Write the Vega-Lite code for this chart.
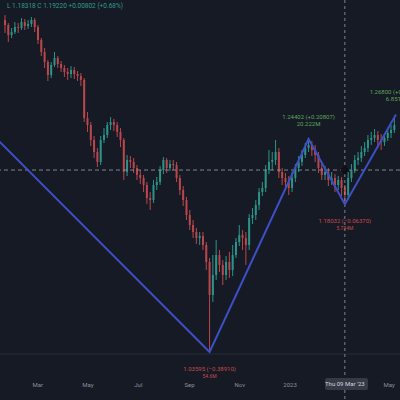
{
"$schema":"https://vega.github.io/schema/vega-lite/v6.json",
"width":400,"height":400,"autosize":"none","padding":0,
"background":"#161a25",
"config":{"view":{"stroke":null},"font":"Roboto"},
"datasets":{
"c":[
{"d":"2022-01-21","o":1.3603,"h":1.3651,"l":1.3476,"c":1.3554},
{"d":"2022-01-25","o":1.3554,"h":1.3573,"l":1.3388,"c":1.3456},
{"d":"2022-01-29","o":1.3456,"h":1.3524,"l":1.3427,"c":1.3485},
{"d":"2022-02-02","o":1.3485,"h":1.3583,"l":1.3466,"c":1.3534},
{"d":"2022-02-06","o":1.3534,"h":1.3573,"l":1.3476,"c":1.3524},
{"d":"2022-02-10","o":1.3524,"h":1.3622,"l":1.3505,"c":1.3583},
{"d":"2022-02-14","o":1.3583,"h":1.3612,"l":1.3505,"c":1.3544},
{"d":"2022-02-18","o":1.3544,"h":1.3603,"l":1.3515,"c":1.3564},
{"d":"2022-02-22","o":1.3564,"h":1.3632,"l":1.3534,"c":1.3603},
{"d":"2022-02-26","o":1.3603,"h":1.3622,"l":1.3485,"c":1.3534},
{"d":"2022-03-02","o":1.3534,"h":1.3554,"l":1.3368,"c":1.3407},
{"d":"2022-03-06","o":1.3407,"h":1.3427,"l":1.3251,"c":1.3290},
{"d":"2022-03-10","o":1.3290,"h":1.3329,"l":1.3134,"c":1.3192},
{"d":"2022-03-14","o":1.3192,"h":1.3212,"l":1.3007,"c":1.3065},
{"d":"2022-03-18","o":1.3065,"h":1.3192,"l":1.3036,"c":1.3163},
{"d":"2022-03-22","o":1.3163,"h":1.3290,"l":1.3144,"c":1.3231},
{"d":"2022-03-26","o":1.3231,"h":1.3251,"l":1.3134,"c":1.3173},
{"d":"2022-03-30","o":1.3173,"h":1.3202,"l":1.3095,"c":1.3134},
{"d":"2022-04-03","o":1.3134,"h":1.3163,"l":1.3046,"c":1.3095},
{"d":"2022-04-07","o":1.3095,"h":1.3134,"l":1.3017,"c":1.3075},
{"d":"2022-04-11","o":1.3075,"h":1.3153,"l":1.3036,"c":1.3114},
{"d":"2022-04-15","o":1.3114,"h":1.3144,"l":1.3026,"c":1.3075},
{"d":"2022-04-19","o":1.3075,"h":1.3105,"l":1.3007,"c":1.3056},
{"d":"2022-04-23","o":1.3056,"h":1.3085,"l":1.2958,"c":1.3017},
{"d":"2022-04-27","o":1.3017,"h":1.3036,"l":1.2606,"c":1.2645},
{"d":"2022-05-01","o":1.2645,"h":1.2704,"l":1.2509,"c":1.2577},
{"d":"2022-05-05","o":1.2577,"h":1.2606,"l":1.2372,"c":1.2431},
{"d":"2022-05-09","o":1.2431,"h":1.2470,"l":1.2255,"c":1.2313},
{"d":"2022-05-13","o":1.2313,"h":1.2352,"l":1.2167,"c":1.2216},
{"d":"2022-05-17","o":1.2216,"h":1.2470,"l":1.2186,"c":1.2431},
{"d":"2022-05-21","o":1.2431,"h":1.2548,"l":1.2401,"c":1.2479},
{"d":"2022-05-25","o":1.2479,"h":1.2606,"l":1.2450,"c":1.2577},
{"d":"2022-05-29","o":1.2577,"h":1.2655,"l":1.2528,"c":1.2606},
{"d":"2022-06-02","o":1.2606,"h":1.2636,"l":1.2518,"c":1.2577},
{"d":"2022-06-06","o":1.2577,"h":1.2606,"l":1.2460,"c":1.2509},
{"d":"2022-06-10","o":1.2509,"h":1.2548,"l":1.2362,"c":1.2431},
{"d":"2022-06-14","o":1.2431,"h":1.2450,"l":1.2040,"c":1.2118},
{"d":"2022-06-18","o":1.2118,"h":1.2284,"l":1.2079,"c":1.2235},
{"d":"2022-06-22","o":1.2235,"h":1.2274,"l":1.2157,"c":1.2216},
{"d":"2022-06-26","o":1.2216,"h":1.2255,"l":1.2108,"c":1.2157},
{"d":"2022-06-30","o":1.2157,"h":1.2186,"l":1.2040,"c":1.2089},
{"d":"2022-07-04","o":1.2089,"h":1.2137,"l":1.2001,"c":1.2059},
{"d":"2022-07-08","o":1.2059,"h":1.2089,"l":1.1922,"c":1.1991},
{"d":"2022-07-12","o":1.1991,"h":1.2020,"l":1.1805,"c":1.1864},
{"d":"2022-07-16","o":1.1864,"h":1.1922,"l":1.1747,"c":1.1844},
{"d":"2022-07-20","o":1.1844,"h":1.2040,"l":1.1815,"c":1.1991},
{"d":"2022-07-24","o":1.1991,"h":1.2069,"l":1.1942,"c":1.2020},
{"d":"2022-07-28","o":1.2020,"h":1.2177,"l":1.1991,"c":1.2137},
{"d":"2022-08-01","o":1.2137,"h":1.2264,"l":1.2098,"c":1.2235},
{"d":"2022-08-05","o":1.2235,"h":1.2255,"l":1.2108,"c":1.2157},
{"d":"2022-08-09","o":1.2157,"h":1.2235,"l":1.2128,"c":1.2196},
{"d":"2022-08-13","o":1.2196,"h":1.2235,"l":1.2137,"c":1.2186},
{"d":"2022-08-17","o":1.2186,"h":1.2216,"l":1.2020,"c":1.2059},
{"d":"2022-08-21","o":1.2059,"h":1.2089,"l":1.1893,"c":1.1942},
{"d":"2022-08-25","o":1.1942,"h":1.1981,"l":1.1786,"c":1.1844},
{"d":"2022-08-29","o":1.1844,"h":1.1874,"l":1.1649,"c":1.1698},
{"d":"2022-09-02","o":1.1698,"h":1.1747,"l":1.1551,"c":1.1600},
{"d":"2022-09-06","o":1.1600,"h":1.1649,"l":1.1473,"c":1.1532},
{"d":"2022-09-10","o":1.1532,"h":1.1571,"l":1.1415,"c":1.1473},
{"d":"2022-09-14","o":1.1473,"h":1.1532,"l":1.1405,"c":1.1493},
{"d":"2022-09-18","o":1.1493,"h":1.1532,"l":1.1356,"c":1.1405},
{"d":"2022-09-22","o":1.1405,"h":1.1434,"l":1.1161,"c":1.1239},
{"d":"2022-09-26","o":1.1239,"h":1.1278,"l":1.03595,"c":1.0916},
{"d":"2022-09-30","o":1.0916,"h":1.1307,"l":1.0848,"c":1.1112},
{"d":"2022-10-04","o":1.1112,"h":1.1454,"l":1.1063,"c":1.1307},
{"d":"2022-10-08","o":1.1307,"h":1.1356,"l":1.1141,"c":1.1210},
{"d":"2022-10-12","o":1.1210,"h":1.1258,"l":1.1014,"c":1.1112},
{"d":"2022-10-16","o":1.1112,"h":1.1297,"l":1.1063,"c":1.1239},
{"d":"2022-10-20","o":1.1239,"h":1.1337,"l":1.1083,"c":1.1161},
{"d":"2022-10-24","o":1.1161,"h":1.1405,"l":1.1102,"c":1.1307},
{"d":"2022-10-28","o":1.1307,"h":1.1473,"l":1.1278,"c":1.1434},
{"d":"2022-11-01","o":1.1434,"h":1.1600,"l":1.1395,"c":1.1502},
{"d":"2022-11-05","o":1.1502,"h":1.1551,"l":1.1356,"c":1.1473},
{"d":"2022-11-09","o":1.1473,"h":1.1532,"l":1.1210,"c":1.1405},
{"d":"2022-11-13","o":1.1405,"h":1.1708,"l":1.1356,"c":1.1669},
{"d":"2022-11-17","o":1.1669,"h":1.1766,"l":1.1610,"c":1.1698},
{"d":"2022-11-21","o":1.1698,"h":1.1844,"l":1.1649,"c":1.1796},
{"d":"2022-11-25","o":1.1796,"h":1.1962,"l":1.1747,"c":1.1922},
{"d":"2022-11-29","o":1.1922,"h":1.2020,"l":1.1884,"c":1.1962},
{"d":"2022-12-03","o":1.1962,"h":1.2186,"l":1.1922,"c":1.2137},
{"d":"2022-12-07","o":1.2137,"h":1.2333,"l":1.2098,"c":1.2216},
{"d":"2022-12-11","o":1.2216,"h":1.2313,"l":1.2137,"c":1.2235},
{"d":"2022-12-15","o":1.2235,"h":1.2431,"l":1.2186,"c":1.2313},
{"d":"2022-12-19","o":1.2313,"h":1.2352,"l":1.2059,"c":1.2118},
{"d":"2022-12-23","o":1.2118,"h":1.2157,"l":1.1991,"c":1.2059},
{"d":"2022-12-27","o":1.2059,"h":1.2108,"l":1.1962,"c":1.2020},
{"d":"2022-12-31","o":1.2020,"h":1.2079,"l":1.1893,"c":1.1962},
{"d":"2023-01-04","o":1.1962,"h":1.2118,"l":1.1922,"c":1.2059},
{"d":"2023-01-08","o":1.2059,"h":1.2196,"l":1.2020,"c":1.2157},
{"d":"2023-01-12","o":1.2157,"h":1.2274,"l":1.2118,"c":1.2216},
{"d":"2023-01-16","o":1.2216,"h":1.2333,"l":1.2177,"c":1.2284},
{"d":"2023-01-20","o":1.2284,"h":1.2401,"l":1.2255,"c":1.2352},
{"d":"2023-01-24","o":1.2352,"h":1.24402,"l":1.2313,"c":1.2382},
{"d":"2023-01-28","o":1.2382,"h":1.2421,"l":1.2274,"c":1.2333},
{"d":"2023-02-01","o":1.2333,"h":1.2382,"l":1.2216,"c":1.2284},
{"d":"2023-02-05","o":1.2284,"h":1.2313,"l":1.2108,"c":1.2157},
{"d":"2023-02-09","o":1.2157,"h":1.2206,"l":1.2040,"c":1.2089},
{"d":"2023-02-13","o":1.2089,"h":1.2177,"l":1.2040,"c":1.2118},
{"d":"2023-02-17","o":1.2118,"h":1.2157,"l":1.1981,"c":1.2040},
{"d":"2023-02-21","o":1.2040,"h":1.2118,"l":1.1991,"c":1.2059},
{"d":"2023-02-25","o":1.2059,"h":1.2098,"l":1.1922,"c":1.1991},
{"d":"2023-03-01","o":1.1991,"h":1.2079,"l":1.1942,"c":1.2040},
{"d":"2023-03-05","o":1.2040,"h":1.2069,"l":1.1884,"c":1.1962},
{"d":"2023-03-09","o":1.1962,"h":1.1991,"l":1.18032,"c":1.1893},
{"d":"2023-03-13","o":1.1893,"h":1.2118,"l":1.1844,"c":1.2059},
{"d":"2023-03-17","o":1.2059,"h":1.2196,"l":1.2020,"c":1.2137},
{"d":"2023-03-21","o":1.2137,"h":1.2284,"l":1.2108,"c":1.2235},
{"d":"2023-03-25","o":1.2235,"h":1.2313,"l":1.2186,"c":1.2255},
{"d":"2023-03-29","o":1.2255,"h":1.2372,"l":1.2216,"c":1.2313},
{"d":"2023-04-02","o":1.2313,"h":1.2411,"l":1.2274,"c":1.2352},
{"d":"2023-04-06","o":1.2352,"h":1.2479,"l":1.2313,"c":1.2431},
{"d":"2023-04-10","o":1.2431,"h":1.2509,"l":1.2382,"c":1.2450},
{"d":"2023-04-14","o":1.2450,"h":1.2538,"l":1.2411,"c":1.2479},
{"d":"2023-04-18","o":1.2479,"h":1.2518,"l":1.2352,"c":1.2431},
{"d":"2023-04-22","o":1.2431,"h":1.2489,"l":1.2333,"c":1.2411},
{"d":"2023-04-26","o":1.2411,"h":1.2499,"l":1.2372,"c":1.2450},
{"d":"2023-04-30","o":1.2450,"h":1.2548,"l":1.2421,"c":1.2499},
{"d":"2023-05-04","o":1.2499,"h":1.2577,"l":1.2450,"c":1.2528},
{"d":"2023-05-08","o":1.2528,"h":1.2645,"l":1.2499,"c":1.2577}
],
"zz":[
{"d":"2021-06-01","p":1.42505},
{"d":"2022-09-26","p":1.03595},
{"d":"2023-01-24","p":1.24402},
{"d":"2023-03-09","p":1.18032},
{"d":"2023-05-10","p":1.26800}
],
"hi":[
{"d":"2023-01-24","p":1.24402,"t1":"1.24402 (+0.20807)","t2":"20.222M"},
{"d":"2023-05-10","p":1.26800,"t1":"1.26800 (+0.08768)","t2":"6.851M"}
],
"lo":[
{"d":"2022-09-26","p":1.03595,"t1":"1.03595 (−0.38910)","t2":"54.6M"},
{"d":"2023-03-09","p":1.18032,"t1":"1.18032 (−0.06370)","t2":"5.734M"}
],
"ch":[
{"d":"2023-03-09","d1":"2023-02-13","d2":"2023-04-06","p":1.2137,"t":"Thu 09 Mar '23"}
],
"lg":[
{"d":"2022-01-21","t":"L 1.18318  C 1.19220  +0.00802 (+0.68%)"}
]
},
"layer":[
{"data":{"name":"ch"},
 "mark":{"type":"rule","color":"#262a36","strokeWidth":1},
 "encoding":{"y":{"datum":1.034,"type":"quantitative","scale":{"domain":[0.98908,1.3798],"nice":false,"zero":false},"axis":null}}},
{"data":{"name":"c"},
 "mark":{"type":"rule","strokeWidth":1,"clip":true},
 "encoding":{
  "x":{"field":"d","type":"temporal","scale":{"type":"utc","domain":[1642723200000,1683572400000]},
   "axis":{"tickCount":{"interval":"month","step":2},
    "labelExpr":"(utcyear(datum.value) == 2023 && utcmonth(datum.value) == 2) ? '' : (utcmonth(datum.value) == 0 ? utcFormat(datum.value, '%Y') : utcFormat(datum.value, '%b'))",
    "title":null,"domain":false,"ticks":false,"grid":false,"offset":-16,"labelPadding":0,"labelBaseline":"middle","labelFontSize":6,"labelColor":"#8b8e97","labelFlush":false,"labelOverlap":false}},
  "y":{"field":"l","type":"quantitative","axis":null},
  "y2":{"field":"h"},
  "color":{"condition":{"test":"datum.c >= datum.o","value":"#2b9488"},"value":"#b9474b"}}},
{"data":{"name":"c"},
 "mark":{"type":"bar","size":2,"clip":true},
 "encoding":{
  "x":{"field":"d","type":"temporal"},
  "y":{"field":"o","type":"quantitative","axis":null},
  "y2":{"field":"c"},
  "color":{"condition":{"test":"datum.c >= datum.o","value":"#2b9488"},"value":"#b9474b"}}},
{"data":{"name":"ch"},
 "mark":{"type":"rule","color":"#9a9da6","strokeWidth":1,"strokeDash":[4,3],"opacity":0.8},
 "encoding":{"y":{"field":"p","type":"quantitative","axis":null}}},
{"data":{"name":"ch"},
 "mark":{"type":"rule","color":"#9a9da6","strokeWidth":1,"strokeDash":[3,3],"opacity":0.8},
 "encoding":{"x":{"field":"d","type":"temporal"}}},
{"data":{"name":"zz"},
 "mark":{"type":"line","color":"#3c4fc4","strokeWidth":2,"clip":true},
 "encoding":{"x":{"field":"d","type":"temporal"},"y":{"field":"p","type":"quantitative","axis":null}}},
{"data":{"name":"ch"},
 "mark":{"type":"point","shape":"cross","filled":true,"color":"#0b0d12","size":70,"opacity":0.9},
 "encoding":{"x":{"field":"d","type":"temporal"},"y":{"field":"p","type":"quantitative","axis":null}}},
{"data":{"name":"hi"},
 "mark":{"type":"text","color":"#5ea35a","fontSize":6,"dy":-22,"baseline":"middle","clip":true},
 "encoding":{"x":{"field":"d","type":"temporal"},"y":{"field":"p","type":"quantitative","axis":null},"text":{"field":"t1"}}},
{"data":{"name":"hi"},
 "mark":{"type":"text","color":"#5ea35a","fontSize":6,"dy":-15,"baseline":"middle","clip":true},
 "encoding":{"x":{"field":"d","type":"temporal"},"y":{"field":"p","type":"quantitative","axis":null},"text":{"field":"t2"}}},
{"data":{"name":"lo"},
 "mark":{"type":"text","color":"#c24a4a","fontSize":6,"dy":17,"baseline":"middle","clip":true},
 "encoding":{"x":{"field":"d","type":"temporal"},"y":{"field":"p","type":"quantitative","axis":null},"text":{"field":"t1"}}},
{"data":{"name":"lo"},
 "mark":{"type":"text","color":"#c24a4a","fontSize":5,"dy":24,"baseline":"middle","clip":true},
 "encoding":{"x":{"field":"d","type":"temporal"},"y":{"field":"p","type":"quantitative","axis":null},"text":{"field":"t2"}}},
{"data":{"name":"ch"},
 "mark":{"type":"rect","color":"#363a46","cornerRadius":2},
 "encoding":{"x":{"field":"d1","type":"temporal"},"x2":{"field":"d2"},
  "y":{"datum":1.0106,"type":"quantitative"},"y2":{"datum":0.9989}}},
{"data":{"name":"ch"},
 "mark":{"type":"text","color":"#d1d4dc","fontSize":6,"baseline":"middle"},
 "encoding":{"x":{"field":"d","type":"temporal"},"y":{"datum":1.0047,"type":"quantitative"},"text":{"field":"t"}}},
{"data":{"name":"lg"},
 "mark":{"type":"text","color":"#2e9c8e","fontSize":6.5,"baseline":"middle","align":"left","dx":2},
 "encoding":{"x":{"field":"d","type":"temporal"},"y":{"datum":1.3739,"type":"quantitative"},"text":{"field":"t"}}}
]
}
